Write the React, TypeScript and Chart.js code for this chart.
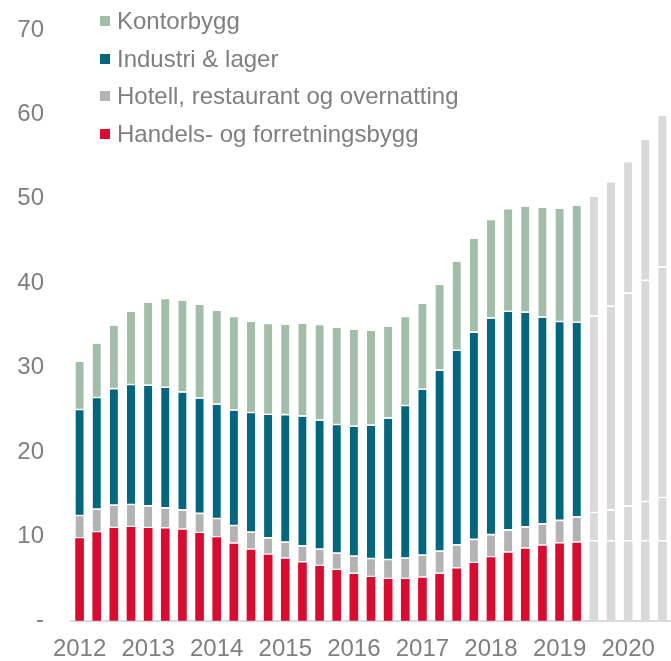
import React, { useEffect, useRef } from 'react';
import { Chart, registerables } from 'chart.js';

Chart.register(...registerables);

const quarters = [
  '2012K1', '2012K2', '2012K3', '2012K4',
  '2013K1', '2013K2', '2013K3', '2013K4',
  '2014K1', '2014K2', '2014K3', '2014K4',
  '2015K1', '2015K2', '2015K3', '2015K4',
  '2016K1', '2016K2', '2016K3', '2016K4',
  '2017K1', '2017K2', '2017K3', '2017K4',
  '2018K1', '2018K2', '2018K3', '2018K4',
  '2019K1', '2019K2', '2019K3', '2019K4',
  '2020K1', '2020K2', '2020K3',
];

// first index that is a projection (drawn in light grey)
const forecastStart = 30;

const handel = [
  9.72, 10.43, 10.94, 11.06, 10.94, 10.9, 10.75, 10.35, 9.84, 9.09,
  8.38, 7.78, 7.31, 6.87, 6.44, 5.97, 5.5, 5.14, 4.9, 4.9,
  5.06, 5.5, 6.16, 6.8, 7.47, 8.02, 8.5, 8.85, 9.12, 9.21,
  9.36, 9.36, 9.36, 9.36, 9.36,
];
const hotell = [
  2.65, 2.69, 2.65, 2.61, 2.57, 2.37, 2.28, 2.26, 2.17, 2.09,
  2.01, 1.94, 1.9, 1.9, 1.94, 1.93, 2.05, 2.13, 2.25, 2.41,
  2.61, 2.64, 2.73, 2.73, 2.64, 2.64, 2.52, 2.52, 2.66, 2.99,
  3.36, 3.67, 4.11, 4.67, 5.14,
];
const industri = [
  12.56, 13.23, 13.82, 14.22, 14.3, 14.3, 13.99, 13.69, 13.55, 13.7,
  14.18, 14.65, 15.12, 15.4, 15.28, 15.25, 15.4, 15.8, 16.78, 18.09,
  19.66, 21.45, 23.06, 24.56, 25.67, 25.91, 25.44, 24.53, 23.58, 23.07,
  23.3, 24.14, 25.24, 26.22, 27.33,
];
const kontor = [
  5.72, 6.47, 7.54, 8.68, 9.83, 10.51, 10.9, 11.11, 11.13, 11.07,
  10.82, 10.75, 10.74, 11.02, 11.34, 11.53, 11.49, 11.25, 10.87, 10.55,
  10.19, 10.19, 10.59, 11.14, 11.66, 12.17, 12.59, 13.0, 13.42, 13.9,
  14.22, 14.77, 15.6, 16.7, 17.97,
];

const seriesNames = [
  'Handels- og forretningsbygg',
  'Hotell, restaurant og overnatting',
  'Industri & lager',
  'Kontorbygg',
];
const seriesColors = ['#db0a2e', '#b3b3b3', '#00677f', '#a3bea8'];
const forecastColor = '#d9d9d9';
const seriesData = [handel, hotell, industri, kontor];

const FONT = "'Liberation Sans', Arial, sans-serif";
const TEXT = '#7f7f7f';
const FS = 24;

export default function App() {
  const ref = useRef<HTMLCanvasElement>(null);

  useEffect(() => {
    const chart = new Chart(ref.current!, {
      type: 'bar',
      data: {
        labels: quarters,
        datasets: seriesNames.map((name, k) => ({
          label: name,
          data: seriesData[k],
          backgroundColor: (ctx: any) =>
            ctx.dataIndex >= forecastStart ? forecastColor : seriesColors[k],
          borderColor: '#ffffff',
          borderWidth: { top: 0, left: 0, right: 0, bottom: k === 0 ? 0 : 2 },
          borderSkipped: false,
          barThickness: 8,
        })),
      },
      options: {
        responsive: false,
        animation: false,
        layout: { padding: { top: 30, left: 0, right: 0, bottom: 0 } },
        plugins: {
          legend: { display: false },
          tooltip: { enabled: false },
        },
        scales: {
          x: {
            stacked: true,
            grid: { display: false, drawTicks: false },
            border: { display: true, color: '#d9d9d9', width: 2 },
            ticks: {
              autoSkip: false,
              maxRotation: 0,
              padding: 14,
              color: TEXT,
              font: { family: FONT, size: FS },
              callback: (_v: any, i: number) =>
                quarters[i].endsWith('K1') ? quarters[i].slice(0, 4) : '',
            },
            afterFit: (s: any) => {
              s.height = 40.3;
              s.paddingLeft = 0;
              s.paddingRight = 0;
            },
          },
          y: {
            stacked: true,
            min: 0,
            max: 70,
            grid: { display: false, drawTicks: false },
            border: { display: false },
            ticks: {
              stepSize: 10,
              padding: 27,
              color: TEXT,
              font: { family: FONT, size: FS },
              callback: (v: any) => (v === 0 ? '-' : String(v)),
            },
            afterFit: (s: any) => {
              s.width = 71;
              s.paddingTop = 0;
              s.paddingBottom = 0;
            },
          },
        },
      },
    });
    return () => chart.destroy();
  }, []);

  const legendOrder = [3, 2, 1, 0];

  return (
    <div
      style={{
        position: 'absolute',
        left: 0,
        top: 0,
        width: 671,
        height: 661,
        background: '#ffffff',
        overflow: 'hidden',
      }}
    >
      <canvas ref={ref} width={671} height={661} style={{ display: 'block' }} />
      {legendOrder.map((k, i) => (
        <div
          key={k}
          style={{
            position: 'absolute',
            left: 100,
            top: 2.5 + 37.5 * i,
            height: 37.5,
            display: 'flex',
            alignItems: 'center',
            whiteSpace: 'nowrap',
            fontFamily: FONT,
            fontSize: FS,
            color: TEXT,
          }}
        >
          <span
            style={{
              display: 'inline-block',
              width: 10,
              height: 10,
              background: seriesColors[k],
              marginRight: 7,
            }}
          />
          <span>{seriesNames[k]}</span>
        </div>
      ))}
    </div>
  );
}
